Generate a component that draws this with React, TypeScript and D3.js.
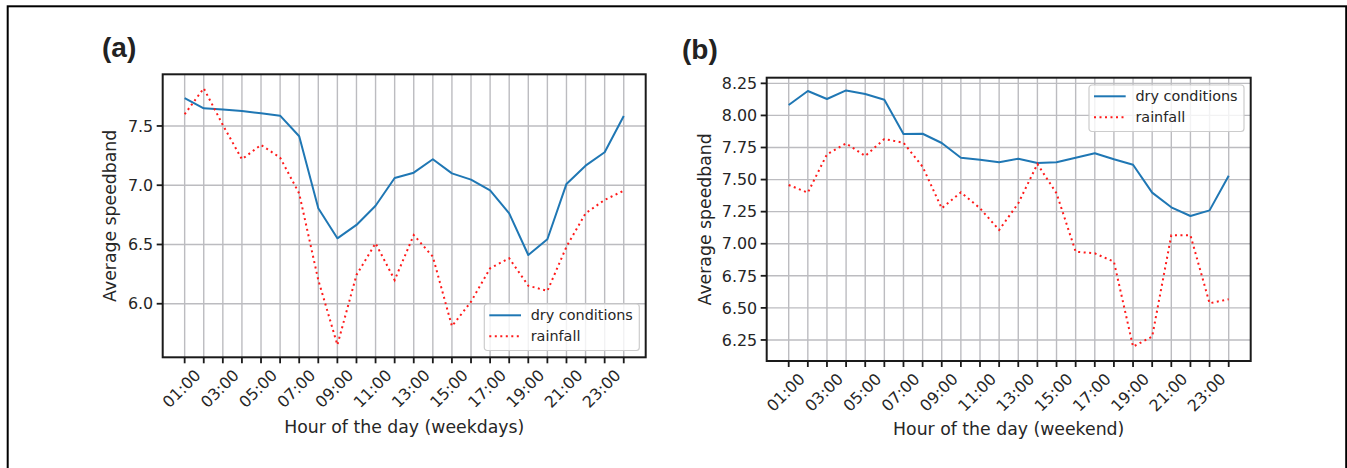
import React from "react";
import * as d3 from "d3";

const hours = d3.range(24).map((h) => `${String(h).padStart(2, "0")}:00`);

const dryWeekday = [7.734, 7.649, 7.638, 7.627, 7.607, 7.587, 7.413, 6.805, 6.552, 6.665, 6.827, 7.061, 7.106, 7.219, 7.1, 7.047, 6.957, 6.763, 6.411, 6.544, 7.011, 7.165, 7.278, 7.584];
const rainWeekday = [7.599, 7.818, 7.508, 7.219, 7.34, 7.233, 6.93, 6.2, 5.652, 6.243, 6.51, 6.2, 6.58, 6.397, 5.81, 6.017, 6.299, 6.384, 6.152, 6.108, 6.481, 6.763, 6.876, 6.954];
const dryWeekend = [8.081, 8.19, 8.128, 8.195, 8.167, 8.122, 7.855, 7.857, 7.785, 7.67, 7.655, 7.635, 7.663, 7.629, 7.635, 7.67, 7.705, 7.658, 7.616, 7.398, 7.284, 7.216, 7.26, 7.53];
const rainWeekend = [7.458, 7.398, 7.697, 7.782, 7.684, 7.816, 7.787, 7.6, 7.276, 7.4, 7.276, 7.107, 7.315, 7.621, 7.393, 6.938, 6.925, 6.86, 6.198, 6.276, 7.066, 7.066, 6.536, 6.567];

const yTicksWeekday = [6.0, 6.5, 7.0, 7.5];
const yTicksWeekend = [6.25, 6.5, 6.75, 7.0, 7.25, 7.5, 7.75, 8.0, 8.25];

const seriesNames = ["dry conditions", "rainfall"];

const TEXT = "#262626";
const GRID = "#bcbcc0";
const BLUE = "#1f77b4";
const RED = "#ff1a1a";
const FONT = "'DejaVu Sans', sans-serif";

type PanelProps = {
  left: number; right: number; top: number; bottom: number;
  yDomain: [number, number];
  yTicks: number[];
  yFmt: (v: number) => string;
  dry: number[]; rain: number[];
  xLabel: string;
  title: string;
  titleX: number; titleY: number;
  legend: { x: number; y: number };
  yLabelX: number;
  xLabelY: number;
};

function Panel(p: PanelProps) {
  const x = d3.scaleLinear().domain([-1.15, 24.15]).range([p.left, p.right]);
  const y = d3.scaleLinear().domain(p.yDomain).range([p.bottom, p.top]);
  const line = d3.line<number>().x((_, i) => x(i)).y((v) => y(v));
  const idx = d3.range(hours.length);
  const lw = 155, lh = 46.5;
  return (
    <g>
      <text x={p.titleX} y={p.titleY} fontFamily="'Liberation Sans', Arial, sans-serif" fontWeight="bold" fontSize={28} fill="#222">{p.title}</text>
      {/* grid */}
      {idx.map((i) => (
        <line key={"gx" + i} x1={x(i)} x2={x(i)} y1={p.top} y2={p.bottom} stroke={GRID} strokeWidth={1.4} />
      ))}
      {p.yTicks.map((t) => (
        <line key={"gy" + t} x1={p.left} x2={p.right} y1={y(t)} y2={y(t)} stroke={GRID} strokeWidth={1.4} />
      ))}
      {/* series */}
      <path d={line(p.dry) || ""} fill="none" stroke={BLUE} strokeWidth={2} strokeLinejoin="round" />
      <path d={line(p.rain) || ""} fill="none" stroke={RED} strokeWidth={2} strokeDasharray="2,3.5" />
      {/* spines */}
      <rect x={p.left} y={p.top} width={p.right - p.left} height={p.bottom - p.top} fill="none" stroke="#1a1a1a" strokeWidth={2} />
      {/* x ticks */}
      {idx.map((i) => (
        <line key={"tx" + i} x1={x(i)} x2={x(i)} y1={p.bottom} y2={p.bottom + 6} stroke="#1a1a1a" strokeWidth={1.8} />
      ))}
      {idx.filter((i) => i % 2 === 1).map((i) => (
        <text key={"lx" + i} transform={`translate(${x(i) - 2},${p.bottom + 19}) rotate(-45)`} textAnchor="end" fontFamily={FONT} fontSize={15.9} fill={TEXT}>{hours[i]}</text>
      ))}
      {/* y ticks */}
      {p.yTicks.map((t) => (
        <g key={"ty" + t}>
          <line x1={p.left - 6} x2={p.left} y1={y(t)} y2={y(t)} stroke="#1a1a1a" strokeWidth={1.8} />
          <text x={p.left - 9.5} y={y(t)} dy="0.36em" textAnchor="end" fontFamily={FONT} fontSize={15.9} fill={TEXT}>{p.yFmt(t)}</text>
        </g>
      ))}
      <text x={(p.left + p.right) / 2} y={p.xLabelY} textAnchor="middle" fontFamily={FONT} fontSize={17.3} fill={TEXT}>{p.xLabel}</text>
      <text transform={`translate(${p.yLabelX},${(p.top + p.bottom) / 2}) rotate(-90)`} textAnchor="middle" fontFamily={FONT} fontSize={17.3} fill={TEXT}>Average speedband</text>
      {/* legend */}
      <g transform={`translate(${p.legend.x},${p.legend.y})`}>
        <rect x={0} y={0} width={lw} height={lh} rx={3} fill="white" fillOpacity={0.8} stroke="#cccccc" strokeWidth={1.2} />
        <line x1={5} x2={36.7} y1={11.3} y2={11.3} stroke={BLUE} strokeWidth={2} />
        <text x={46.4} y={11.3} dy="0.36em" fontFamily={FONT} fontSize={14.4} fill={TEXT}>{seriesNames[0]}</text>
        <line x1={5} x2={36.7} y1={32.3} y2={32.3} stroke={RED} strokeWidth={2} strokeDasharray="2,3.5" />
        <text x={46.4} y={32.3} dy="0.36em" fontFamily={FONT} fontSize={14.4} fill={TEXT}>{seriesNames[1]}</text>
      </g>
    </g>
  );
}

export default function App() {
  return (
    <svg width={1347} height={468} style={{ position: "absolute", left: 0, top: 0, background: "white" }}>
      <rect x={0} y={0} width={1347} height={468} fill="white" />
      <rect x={7.7} y={6.3} width={1338.5} height={480} fill="none" stroke="black" strokeWidth={2} />
      <Panel
        left={162.7} right={645.7} top={74.3} bottom={357.3}
        yDomain={[5.548, 7.936]} yTicks={yTicksWeekday} yFmt={d3.format(".1f")}
        dry={dryWeekday} rain={rainWeekday}
        xLabel="Hour of the day (weekdays)" title="(a)" titleX={102} titleY={57}
        legend={{ x: 484.3, y: 304 }} yLabelX={116} xLabelY={433}
      />
      <Panel
        left={766.7} right={1250.7} top={77.7} bottom={361}
        yDomain={[6.086, 8.294]} yTicks={yTicksWeekend} yFmt={d3.format(".2f")}
        dry={dryWeekend} rain={rainWeekend}
        xLabel="Hour of the day (weekend)" title="(b)" titleX={682} titleY={59}
        legend={{ x: 1089, y: 85 }} yLabelX={710.5} xLabelY={435}
      />
    </svg>
  );
}
